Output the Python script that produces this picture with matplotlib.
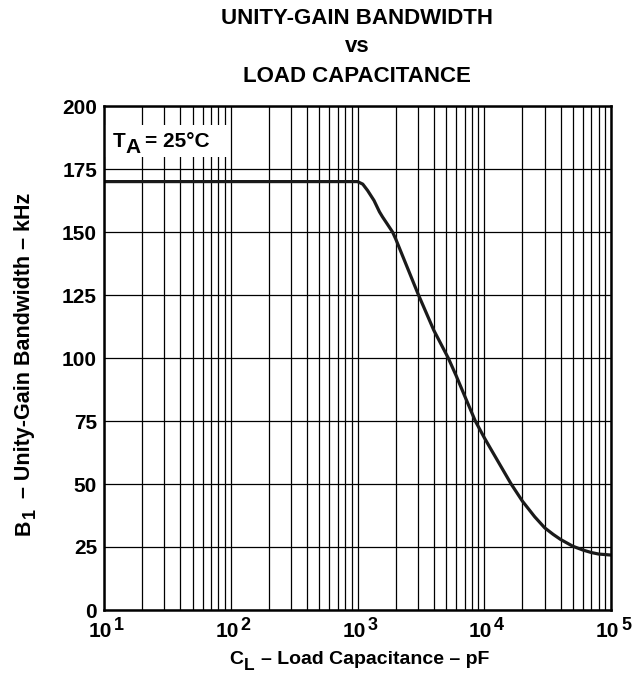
import numpy as np
from matplotlib import pyplot as plt
from matplotlib.patches import Rectangle
from matplotlib.ticker import FixedLocator, LogLocator, NullFormatter

# load capacitance (pF) and unity-gain bandwidth (kHz)
cap_pf = [10, 1000, 1100, 1200, 1350, 1490, 1575, 1700, 1890, 2000, 2500,
          3000, 4000, 5200, 6000, 7000, 8500, 10000, 11350, 13000, 16300,
          20000, 25000, 30000, 35000, 40000, 50000, 60000, 70000, 80000,
          90000, 100000]
bw_khz = [170, 170, 169, 166.5, 162.5, 158, 156, 153.5, 150, 147.3, 135.3,
          125.5, 111, 100, 93, 85, 75, 68.4, 63.6, 58.5, 50,
          43.2, 37, 32.6, 30, 28, 25.3, 23.8, 22.8, 22.2,
          22, 21.8]

x_ticks = [10, 100, 1000, 10000, 100000]
x_tick_exp = ['1', '2', '3', '4', '5']
y_ticks = [0, 25, 50, 75, 100, 125, 150, 175, 200]

W, H = 636, 674

plt.rcParams['font.family'] = ['Liberation Sans', 'DejaVu Sans']
plt.rcParams['font.weight'] = 'bold'

fig = plt.figure(figsize=(W / 100, H / 100), dpi=100)
ax = fig.add_axes([104 / W, 1 - 610 / H, 507 / W, 504 / H])
renderer = fig.canvas.get_renderer()


def put_pieces(pieces, x_px, y_px, rotation=0, center=None):
    # pieces: (text, size, shift down in px, gap after in px); baseline start in px from top-left
    texts = []
    pos = 0.0
    for s, size, shift, gap in pieces:
        t = fig.text(0, 0, s, fontsize=size, fontweight='bold', rotation=rotation,
                     rotation_mode='anchor', ha='left', va='baseline')
        ext = t.get_window_extent(renderer)
        adv = ext.width if rotation == 0 else ext.height
        texts.append((t, pos, shift))
        pos += adv + gap
    total = pos
    for t, p, shift in texts:
        if rotation == 0:
            start = x_px if center is None else center - total / 2
            t.set_position(((start + p) / W, 1 - (y_px + shift) / H))
        else:
            start = y_px if center is None else center + total / 2
            t.set_position(((x_px + shift) / W, 1 - (start - p) / H))


ax.set_xscale('log')
ax.set_xlim(10, 100000)
ax.set_ylim(0, 200)

ax.xaxis.set_major_locator(FixedLocator(x_ticks))
ax.xaxis.set_major_formatter(NullFormatter())
ax.xaxis.set_minor_locator(LogLocator(base=10, subs=np.arange(2, 10)))
ax.xaxis.set_minor_formatter(NullFormatter())
ax.set_yticks(y_ticks)

ax.grid(True, which='both', axis='x', color='black', linewidth=0.9)
ax.grid(True, which='major', axis='y', color='black', linewidth=0.9)
ax.set_axisbelow(True)

ax.tick_params(which='both', length=0, labelsize=15, pad=5)
for lbl in ax.get_yticklabels():
    lbl.set_fontweight('bold')
for side in ax.spines.values():
    side.set_linewidth(1.8)
    side.set_zorder(5)

# x tick labels as 10 with a large superscript
for v, e in zip(x_ticks, x_tick_exp):
    ax.annotate('10', xy=(v, 0), xycoords=('data', 'axes fraction'),
                xytext=(8, -27), textcoords='offset pixels', ha='right',
                va='baseline', fontsize=15, fontweight='bold', annotation_clip=False)
    ax.annotate(e, xy=(v, 0), xycoords=('data', 'axes fraction'),
                xytext=(10, -20), textcoords='offset pixels', ha='left',
                va='baseline', fontsize=13, fontweight='bold', annotation_clip=False)

ax.plot(cap_pf, bw_khz, color='#1a1a1a', linewidth=2.3, zorder=4)

# white patch behind the temperature note
ax.add_patch(Rectangle((0, 0.899), 0.245, 0.063, transform=ax.transAxes,
                       facecolor='white', edgecolor='none', zorder=3))
put_pieces([('T', 15, 0, 0), ('A', 15, 5.7, 4), ('= 25°C', 15, 0, 0)], 113, 147)

put_pieces([('C', 14, 0, 1), ('L', 12.5, 6, 6),
            ('– Load Capacitance – pF', 14, 0, 0)], 0, 664, center=359)
put_pieces([('B', 15.5, 0, 1), ('1', 13, 5, 10),
            ('– Unity-Gain Bandwidth – kHz', 15.5, 0, 0)], 30, 0, rotation=90, center=364)

fig.text(357 / W, 1 - 19 / H, 'UNITY-GAIN BANDWIDTH', ha='center', va='center',
         fontsize=16, fontweight='bold')
fig.text(357 / W, 1 - 47 / H, 'vs', ha='center', va='center', fontsize=16,
         fontweight='bold')
fig.text(357 / W, 1 - 76 / H, 'LOAD CAPACITANCE', ha='center', va='center',
         fontsize=16, fontweight='bold')

plt.savefig('out.png', dpi=100)
